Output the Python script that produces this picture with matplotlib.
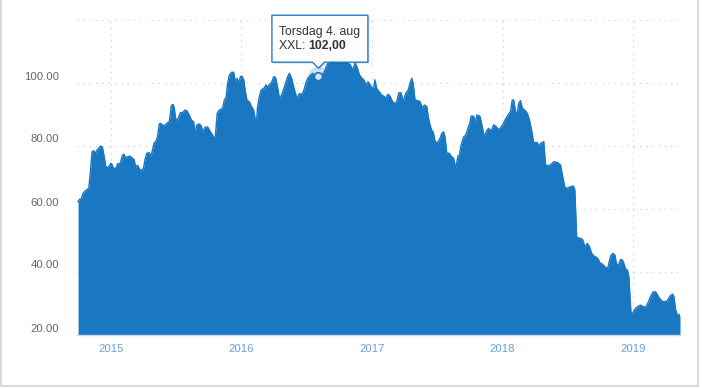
import matplotlib
matplotlib.use('Agg')
import matplotlib.pyplot as plt
import matplotlib.dates as mdates
from matplotlib.patches import Polygon, Circle
from matplotlib.transforms import offset_copy
import pandas as pd

# Kursdata XXL
dates = [
    '2014-10-02', '2014-10-07', '2014-10-10', '2014-10-16', '2014-10-22', '2014-10-29',
    '2014-11-01', '2014-11-06', '2014-11-10', '2014-11-15', '2014-11-20', '2014-11-24',
    '2014-12-04', '2014-12-09', '2014-12-14', '2014-12-18', '2014-12-23',
    '2015-01-02', '2015-01-04', '2015-01-09', '2015-01-16', '2015-01-20', '2015-01-28',
    '2015-02-03', '2015-02-07', '2015-02-12', '2015-02-17', '2015-02-24',
    '2015-03-03', '2015-03-08', '2015-03-12', '2015-03-17', '2015-03-22', '2015-03-26',
    '2015-04-03', '2015-04-07', '2015-04-12', '2015-04-19', '2015-04-23', '2015-04-28',
    '2015-05-03', '2015-05-07', '2015-05-12', '2015-05-17', '2015-05-21', '2015-05-26', '2015-05-31',
    '2015-06-07', '2015-06-14', '2015-06-20', '2015-06-25', '2015-06-28',
    '2015-07-01', '2015-07-05', '2015-07-09', '2015-07-15', '2015-07-21', '2015-07-28',
    '2015-08-02', '2015-08-09', '2015-08-15', '2015-08-21', '2015-08-25', '2015-08-30',
    '2015-09-06', '2015-09-12', '2015-09-15', '2015-09-22', '2015-09-28',
    '2015-10-02', '2015-10-07', '2015-10-13', '2015-10-20', '2015-10-26',
    '2015-11-01', '2015-11-10', '2015-11-15', '2015-11-20', '2015-11-24', '2015-11-29',
    '2015-12-05', '2015-12-11', '2015-12-16', '2015-12-21', '2015-12-24', '2015-12-30',
    '2016-01-03', '2016-01-08', '2016-01-12', '2016-01-17', '2016-01-24', '2016-01-30',
    '2016-02-05', '2016-02-12', '2016-02-16', '2016-02-21', '2016-02-26',
    '2016-03-04', '2016-03-11', '2016-03-15', '2016-03-20', '2016-03-25',
    '2016-04-01', '2016-04-06', '2016-04-12', '2016-04-17', '2016-04-23',
    '2016-05-01', '2016-05-10', '2016-05-15', '2016-05-21', '2016-05-29',
    '2016-06-05', '2016-06-12', '2016-06-16', '2016-06-23',
    '2016-07-01', '2016-07-05', '2016-07-13', '2016-07-19', '2016-07-26',
    '2016-08-04', '2016-08-10', '2016-08-19', '2016-08-26', '2016-08-31',
    '2016-09-04', '2016-09-09', '2016-09-18', '2016-09-27',
    '2016-10-07', '2016-10-16', '2016-10-26',
    '2016-11-02', '2016-11-06', '2016-11-11', '2016-11-15', '2016-11-21', '2016-11-27',
    '2016-12-04', '2016-12-09', '2016-12-16', '2016-12-21', '2016-12-30',
    '2017-01-05', '2017-01-09', '2017-01-14', '2017-01-21', '2017-01-28',
    '2017-02-04', '2017-02-08', '2017-02-14', '2017-02-20', '2017-02-27',
    '2017-03-06', '2017-03-11', '2017-03-17', '2017-03-23', '2017-03-29',
    '2017-04-05', '2017-04-12', '2017-04-17', '2017-04-22', '2017-04-26',
    '2017-05-01', '2017-05-09', '2017-05-15', '2017-05-22', '2017-05-27',
    '2017-06-03', '2017-06-07', '2017-06-12', '2017-06-17', '2017-06-21', '2017-06-26',
    '2017-07-04', '2017-07-10', '2017-07-15', '2017-07-20', '2017-07-24', '2017-07-29',
    '2017-08-05', '2017-08-10', '2017-08-17', '2017-08-23', '2017-08-29',
    '2017-09-02', '2017-09-07', '2017-09-14', '2017-09-20', '2017-09-26',
    '2017-10-01', '2017-10-05', '2017-10-12', '2017-10-16', '2017-10-21', '2017-10-24', '2017-10-30',
    '2017-11-04', '2017-11-11', '2017-11-18', '2017-11-23', '2017-11-30',
    '2017-12-07', '2017-12-13', '2017-12-19', '2017-12-25',
    '2018-01-01', '2018-01-09', '2018-01-16', '2018-01-23', '2018-01-28',
    '2018-02-01', '2018-02-06', '2018-02-11', '2018-02-15', '2018-02-20', '2018-02-25',
    '2018-03-04', '2018-03-11', '2018-03-17', '2018-03-23', '2018-03-29',
    '2018-04-08', '2018-04-12', '2018-04-17', '2018-04-26',
    '2018-05-01', '2018-05-10', '2018-05-18', '2018-05-24',
    '2018-06-03', '2018-06-12', '2018-06-18', '2018-06-24',
    '2018-07-01', '2018-07-10', '2018-07-18', '2018-07-22', '2018-07-27',
    '2018-08-02', '2018-08-07', '2018-08-13', '2018-08-19', '2018-08-26',
    '2018-09-01', '2018-09-07', '2018-09-13', '2018-09-20', '2018-09-26', '2018-09-29',
    '2018-10-07', '2018-10-14', '2018-10-21', '2018-10-25', '2018-10-30',
    '2018-11-05', '2018-11-11', '2018-11-15', '2018-11-21', '2018-11-27',
    '2018-12-02', '2018-12-06', '2018-12-11', '2018-12-16', '2018-12-20', '2018-12-23', '2018-12-26', '2018-12-30',
    '2019-01-06', '2019-01-13', '2019-01-22',
    '2019-02-01', '2019-02-07', '2019-02-13', '2019-02-19', '2019-02-26',
    '2019-03-05', '2019-03-10', '2019-03-16', '2019-03-24', '2019-03-31',
    '2019-04-07', '2019-04-13', '2019-04-21', '2019-04-25', '2019-04-30',
    '2019-05-05', '2019-05-10', '2019-05-12',
]
prices = [
    62.3, 63.2, 62.8, 65.0, 65.8, 66.3,
    66.7, 72.4, 78.2, 78.5, 77.7, 78.7,
    80.0, 79.6, 76.6, 73.7, 72.9,
    74.5, 74.3, 72.9, 72.9, 74.3, 74.5,
    77.1, 77.4, 76.3, 76.6, 76.8,
    76.1, 75.6, 73.2, 73.9, 72.9, 72.1,
    72.9, 75.6, 77.7, 77.9, 76.6, 78.7,
    81.1, 81.4, 82.9, 87.0, 87.2, 86.7, 86.4,
    87.2, 87.7, 92.9, 93.2, 92.0,
    89.3, 87.7, 88.8, 90.6, 90.6, 91.4,
    91.2, 89.8, 88.2, 87.7, 84.0, 86.7,
    87.0, 86.3, 84.5, 85.9, 86.1,
    85.6, 84.5, 83.5, 81.9, 90.4,
    91.4, 92.0, 94.6, 95.5, 99.9, 102.5,
    103.4, 103.4, 100.4, 101.5, 99.9, 102.0,
    102.2, 101.1, 97.8, 94.6, 94.0, 92.5,
    91.4, 86.7, 92.5, 95.7, 97.8,
    98.3, 99.4, 98.5, 99.6, 99.9,
    102.0, 101.8, 98.5, 95.1, 96.2,
    98.8, 102.0, 103.1, 101.5, 97.8,
    95.1, 96.7, 96.2, 97.2,
    100.4, 101.5, 102.5, 103.1, 102.0,
    102.0, 102.5, 103.1, 105.2, 106.3,
    106.8, 107.1, 106.8, 107.8,
    106.8, 107.8, 106.3,
    105.7, 104.1, 105.2, 106.3, 104.7, 102.5,
    101.5, 101.0, 99.4, 100.4, 98.8,
    98.0, 101.0, 98.3, 97.2, 96.2,
    95.7, 95.1, 96.4, 95.9, 94.1,
    93.5, 94.1, 96.9, 96.9, 94.1,
    96.7, 97.8, 99.9, 101.5, 99.9,
    94.6, 94.4, 94.1, 92.0, 93.0,
    92.5, 89.3, 86.7, 84.9, 84.5, 81.4,
    81.1, 82.4, 84.0, 84.5, 82.9, 77.7,
    77.7, 76.8, 76.1, 72.9, 76.8,
    77.1, 80.3, 82.9, 83.5, 85.6,
    87.2, 89.5, 89.5, 87.2, 89.8, 89.8, 89.3,
    86.7, 82.9, 85.0, 85.6, 84.8,
    86.7, 86.3, 85.3, 85.6,
    86.7, 88.5, 89.8, 90.9, 94.6,
    94.6, 90.9, 90.4, 93.5, 94.4, 92.0,
    91.4, 90.4, 88.3, 85.0, 81.1,
    81.1, 80.0, 80.8, 81.4,
    74.0, 73.7, 74.3, 75.0,
    74.8, 74.0, 70.3, 66.9,
    66.6, 67.1, 67.3, 66.0, 51.2,
    50.7, 50.7, 50.2, 48.0, 49.1,
    48.0, 45.9, 45.1, 44.7, 44.0, 43.0,
    42.5, 41.7, 40.9, 42.7, 45.1,
    45.9, 45.4, 42.7, 42.2, 44.0,
    43.8, 42.7, 40.9, 40.6, 38.5, 32.2, 26.9, 26.9,
    28.2, 29.0, 29.5,
    28.8, 29.2, 30.6, 32.4, 33.7,
    33.7, 32.7, 31.6, 30.6, 30.6,
    30.9, 32.2, 33.0, 32.2, 27.9,
    26.3, 26.5, 25.8,
]

year_ticks = ['2015-01-01', '2016-01-01', '2017-01-01', '2018-01-01', '2019-01-01']
year_labels = ['2015', '2016', '2017', '2018', '2019']
y_ticks = [20, 40, 60, 80, 100, 120]
x_range = ['2014-09-29', '2019-05-12']

tip_date = '2016-08-04'
tip_value = 102.00
tip_title = 'Torsdag 4. aug'
series_name = 'XXL'

area_color = '#1a77c1'
grid_color = '#bcd6ee'

plt.rcParams['font.family'] = ['Liberation Sans', 'DejaVu Sans']

W, H = 702, 389
fig = plt.figure(figsize=(W / 100, H / 100), dpi=100)
ax = fig.add_axes([77 / W, 1 - 335 / H, (680 - 77) / W, (335 - 20) / H])

x = pd.to_datetime(dates)
ax.fill_between(x, prices, y_ticks[0], color=area_color, linewidth=0, zorder=2)
ax.plot(x, prices, color=area_color, linewidth=1, zorder=3)

ax.set_xlim(pd.to_datetime(x_range[0]), pd.to_datetime(x_range[1]))
ax.set_ylim(y_ticks[0], y_ticks[-1])

# rutenett
for v in y_ticks[1:]:
    ax.axhline(v, color=grid_color, linewidth=0.9, linestyle=(0, (1, 4)), zorder=1)
for d in year_ticks:
    ax.axvline(pd.to_datetime(d), color=grid_color, linewidth=0.9, linestyle=(0, (1, 4)), zorder=1)

for s in ['top', 'right', 'left']:
    ax.spines[s].set_visible(False)
ax.spines['bottom'].set_color('#ccd6eb')
ax.spines['bottom'].set_linewidth(1)
ax.spines['bottom'].set_zorder(4)
ax.set_xticks([])
ax.set_yticks([])

ylab_tr = offset_copy(ax.get_yaxis_transform(), fig=fig, x=-18, y=6.5, units='dots')
for v in y_ticks[:-1]:
    ax.text(0, v, f'{v:.2f}', transform=ylab_tr, ha='right', va='center',
            fontsize=8.2, color='#666666')

xlab_tr = offset_copy(ax.get_xaxis_transform(), fig=fig, x=0, y=-14, units='dots')
for d, lab in zip(year_ticks, year_labels):
    ax.text(pd.to_datetime(d), 0, lab, transform=xlab_tr, ha='center', va='center',
            fontsize=8.2, color='#6a9fd9')

# overlay i piksler for tooltip og ramme
oax = fig.add_axes([0, 0, 1, 1], zorder=10)
oax.set_xlim(0, W)
oax.set_ylim(H, 0)
oax.axis('off')
oax.patch.set_alpha(0)

# ramme rundt
oax.plot([1, 1, 698, 698], [0, 386, 386, 0], color='#d9d9d9', linewidth=1.5)

px, py = ax.transData.transform((mdates.date2num(pd.to_datetime(tip_date)), tip_value))
py = H - py

# markering
oax.add_patch(Circle((px, py), 10, facecolor=area_color, alpha=0.22, edgecolor='none'))
oax.add_patch(Circle((px, py), 4, facecolor='#d6e6f4', edgecolor=area_color, linewidth=1.2))

bl, br = px - 46.5, px + 49.5
bt, bb = py - 61.5, py - 14.5
tip = [(bl, bt), (br, bt), (br, bb), (px + 6, bb), (px, bb + 6), (px - 6, bb), (bl, bb)]
shadow = [(a + 1.5, b + 1.5) for a, b in tip]
oax.add_patch(Polygon(shadow, closed=True, facecolor='#000000', alpha=0.12, edgecolor='none'))
oax.add_patch(Polygon(tip, closed=True, facecolor='#ffffff', alpha=0.95,
                      edgecolor=area_color, linewidth=1))

oax.text(bl + 7, bt + 16.5, tip_title, fontsize=8.8, color='#333333', va='center', ha='left')
t1 = oax.text(bl + 7, bt + 31, f'{series_name}: ', fontsize=8.8, color='#333333',
              va='center', ha='left')
fig.canvas.draw()
bbox = t1.get_window_extent()
oax.text(bl + 7 + bbox.width, bt + 31, f'{tip_value:.2f}'.replace('.', ','), fontsize=8.8,
         color='#333333', va='center', ha='left', fontweight='bold')

fig.savefig('out.png', dpi=100)
